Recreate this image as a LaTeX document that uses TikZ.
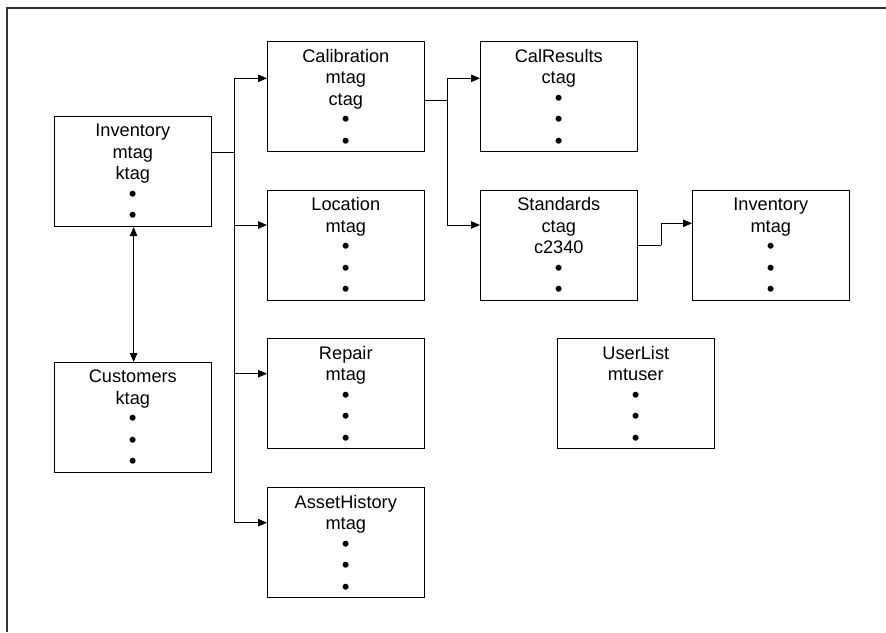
\documentclass[tikz,border=0pt]{standalone}
\usepackage{fontspec}
\setmainfont{Liberation Sans}
\usetikzlibrary{arrows.meta,calc}
\newcommand\boxfs{\fontsize{18.2pt}{21.5pt}\selectfont}
\newcommand\firstl{\rule{0pt}{13.7pt}}
\newcommand\bdot{{\fontsize{22pt}{21.5pt}\selectfont •}}
\tikzset{
  tbox/.style={draw, line width=1.1pt, minimum width=156.5pt, minimum height=110pt, inner sep=0pt, anchor=north west},
  ttxt/.style={font=\boxfs, align=center, inner sep=0pt, anchor=north},
  arr/.style={-{Triangle[length=9pt,width=7.5pt]}, line width=0.9pt},
  darr/.style={{Triangle[length=9pt,width=7.5pt]}-{Triangle[length=9pt,width=7.5pt]}, line width=0.9pt},
  ln/.style={line width=0.9pt},
  frame/.style={line width=2pt, draw=black!80}
}
\begin{document}
\begin{tikzpicture}[x=1pt,y=-1pt]
\useasboundingbox (0,0) rectangle (886,632);
\draw[frame] (7,632) -- (7,7.5) -- (886,7.5);

% boxes
\node[tbox] (inv)  at (54,116) {};
\node[tbox] (cust) at (54,362) {};
\node[tbox] (cal)  at (267,41.3) {};
\node[tbox] (loc)  at (267,190) {};
\node[tbox] (rep)  at (267,338.3) {};
\node[tbox] (ah)   at (267,487.3) {};
\node[tbox] (calr) at (480,41.3) {};
\node[tbox] (std)  at (480,190) {};
\node[tbox] (inv2) at (692,190) {};
\node[tbox] (usr)  at (557,338.3) {};

% texts
\node[ttxt] (invT)  at ([yshift=-7pt]inv.north)  {\firstl Inventory\\mtag\\ktag\\\bdot\\\bdot};
\node[ttxt] (custT) at ([yshift=-7pt]cust.north) {\firstl Customers\\ktag\\\bdot\\\bdot\\\bdot};
\node[ttxt] (calT)  at ([yshift=-7pt]cal.north)  {\firstl Calibration\\mtag\\ctag\\\bdot\\\bdot};
\node[ttxt] (locT)  at ([yshift=-7pt]loc.north)  {\firstl Location\\mtag\\\bdot\\\bdot\\\bdot};
\node[ttxt] (repT)  at ([yshift=-7pt]rep.north)  {\firstl Repair\\mtag\\\bdot\\\bdot\\\bdot};
\node[ttxt] (ahT)   at ([yshift=-7pt]ah.north)   {\firstl AssetHistory\\mtag\\\bdot\\\bdot\\\bdot};
\node[ttxt] (calrT) at ([yshift=-7pt]calr.north) {\firstl CalResults\\ctag\\\bdot\\\bdot\\\bdot};
\node[ttxt] (stdT)  at ([yshift=-7pt]std.north)  {\firstl Standards\\ctag\\c2340\\\bdot\\\bdot};
\node[ttxt] (inv2T) at ([yshift=-7pt]inv2.north) {\firstl Inventory\\mtag\\\bdot\\\bdot\\\bdot};
\node[ttxt] (usrT)  at ([yshift=-7pt]usr.north)  {\firstl UserList\\mtuser\\\bdot\\\bdot\\\bdot};

% connectors
\coordinate (tr1) at (234,152);
\draw[ln] ([yshift=-36pt]inv.north east) -- (tr1);
\draw[arr] (tr1) |- ([yshift=-37pt]cal.north west);
\draw[arr] (tr1) |- ([yshift=-35pt]loc.north west);
\draw[arr] (tr1) |- ([yshift=-35.4pt]rep.north west);
\draw[arr] (tr1) |- ([yshift=-35.4pt]ah.north west);

\coordinate (tr2) at (447,100.3);
\draw[ln] ([yshift=-59pt]cal.north east) -- (tr2);
\draw[arr] (tr2) |- ([yshift=-37pt]calr.north west);
\draw[arr] (tr2) |- ([yshift=-35pt]std.north west);

\coordinate (tr3) at (661,245);
\draw[ln] ([yshift=-55pt]std.north east) -- (tr3);
\draw[arr] (tr3) |- ([yshift=-33.3pt]inv2.north west);

\draw[darr] ([xshift=0.8pt]inv.south) -- ([xshift=0.8pt]cust.north);
\end{tikzpicture}
\end{document}
